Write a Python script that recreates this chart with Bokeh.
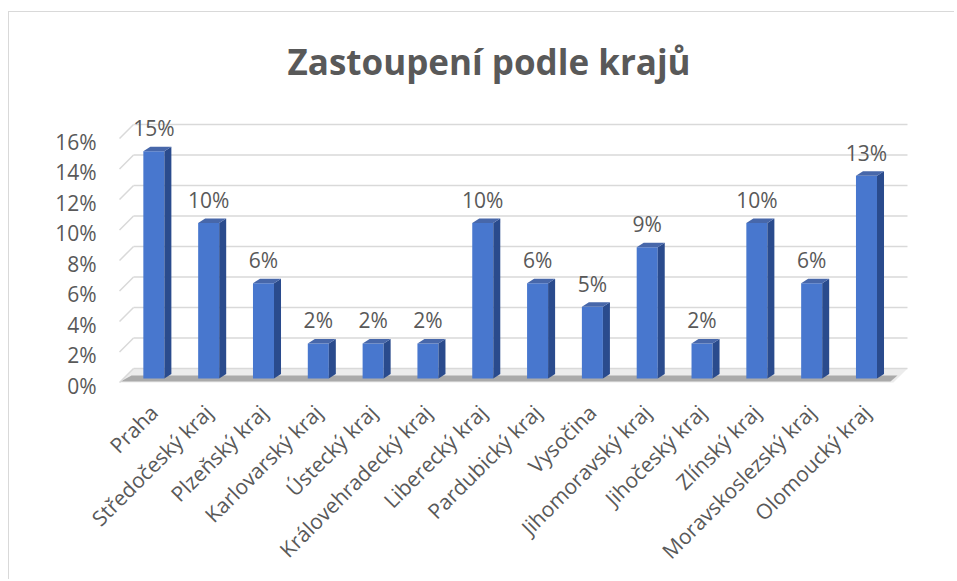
import math
from bokeh.plotting import figure
from bokeh.models import Range1d, LinearAxis, FixedTicker, PrintfTickFormatter
from bokeh.core.properties import value
from bokeh.embed import file_html
from bokeh.resources import INLINE

# ---- data ----
categories = ["Praha", "Středočeský kraj", "Plzeňský kraj", "Karlovarský kraj", "Ústecký kraj",
              "Královehradecký kraj", "Liberecký kraj", "Pardubický kraj", "Vysočina",
              "Jihomoravský kraj", "Jihočeský kraj", "Zlínský kraj", "Moravskoslezský kraj",
              "Olomoucký kraj"]
shares = [14.9, 10.2, 6.25, 2.3, 2.3, 2.3, 10.2, 6.25, 4.7, 8.6, 2.3, 10.2, 6.25, 13.3]
share_labels = ["15%", "10%", "6%", "2%", "2%", "2%", "10%", "6%", "5%", "9%", "2%", "10%", "6%", "13%"]
y_ticks = [0, 2, 4, 6, 8, 10, 12, 14, 16]
title_text = "Zastoupení podle krajů"

# ---- geometry (pixel sizes converted to data units) ----
PX_X = 54.75   # px per category
PX_Y = 15.25   # px per percent
half_w = 10.5 / PX_X
side_dx = 7.0 / PX_X
side_dy = 4.5 / PX_Y
back_dy = 10.0 / PX_Y
front_dy = -4.0 / PX_Y
grid_back_left = -20.3 / PX_X
grid_front_left = -34.3 / PX_X
grid_back_right = 752.7 / PX_X
grid_front_right = grid_back_right - 14.0 / PX_X

FONT = "Open Sans"
TXT = "#595959"
LBL = "21px"

x0, x1 = -43.3 / PX_X, 761.7 / PX_X
y0, y1 = -12.0 / PX_Y, 278.0 / PX_Y

p = figure(width=946, height=568, output_backend="svg", toolbar_location=None,
           x_range=Range1d(x0, x1), y_range=Range1d(y0, y1),
           x_axis_location=None, y_axis_location=None,
           min_border_left=101, min_border_right=39, min_border_top=88, min_border_bottom=190)
p.outline_line_color = None
p.xgrid.visible = False
p.ygrid.visible = False
p.styles = {"margin-left": "8px", "margin-top": "11px",
            "border-top": "1px solid #d9d9d9", "border-left": "1px solid #d9d9d9"}

# title
p.title.text = title_text
p.title.text_font = FONT
p.title.text_font_size = "35px"
p.title.text_font_style = "bold"
p.title.text_color = TXT
p.title.align = "left"
p.title.offset = 177
p.title.standoff = 32

# y axis (labels aligned with the front edge of the floor)
p.extra_y_ranges = {"ax": Range1d(y0 - front_dy + 3.0 / PX_Y, y1 - front_dy + 3.0 / PX_Y)}
yax = LinearAxis(y_range_name="ax", ticker=FixedTicker(ticks=y_ticks),
                 formatter=PrintfTickFormatter(format="%d%%"))
yax.axis_line_color = None
yax.major_tick_line_color = None
yax.minor_tick_line_color = None
yax.major_label_standoff = 8
yax.major_label_text_font = FONT
yax.major_label_text_font_size = LBL
yax.major_label_text_color = TXT
p.add_layout(yax, "left")

# x axis
idx = list(range(len(categories)))
xax = LinearAxis(ticker=FixedTicker(ticks=idx),
                 major_label_overrides={i: c for i, c in zip(idx, categories)})
xax.major_label_orientation = math.pi / 4
xax.axis_line_color = None
xax.major_tick_line_color = None
xax.minor_tick_line_color = None
xax.major_label_standoff = 12
xax.major_label_text_font = FONT
xax.major_label_text_font_size = LBL
xax.major_label_text_color = TXT
p.add_layout(xax, "below")

# floor
p.patch([grid_front_left, grid_back_left, grid_back_right, grid_front_right],
        [front_dy, back_dy, back_dy, front_dy], fill_color="#ececec", line_color=None)
p.patch([grid_front_left + 1.0 / PX_X, grid_back_left - 2.0 / PX_X, grid_back_right - 10.0 / PX_X, grid_front_right - 3.0 / PX_X],
        [front_dy + 1.0 / PX_Y, 0.2, 0.2, front_dy + 1.0 / PX_Y], fill_color="#8f8f8f", fill_alpha=0.7, line_color=None)

# gridlines (back wall + side diagonals)
p.segment(x0=[grid_back_left] * len(y_ticks), y0=[t + back_dy for t in y_ticks],
          x1=[grid_back_right] * len(y_ticks), y1=[t + back_dy for t in y_ticks],
          line_color="#d9d9d9", line_width=1.5)
p.segment(x0=[grid_front_left] * len(y_ticks), y0=[t + front_dy for t in y_ticks],
          x1=[grid_back_left] * len(y_ticks), y1=[t + back_dy for t in y_ticks],
          line_color="#d9d9d9", line_width=1.5)

# bars: front, side and top faces
p.quad(left=[i - half_w for i in idx], right=[i + half_w for i in idx],
       bottom=[0] * len(idx), top=shares, fill_color="#4877ce", line_color=None)
p.patches(xs=[[i + half_w, i + half_w + side_dx, i + half_w + side_dx, i + half_w] for i in idx],
          ys=[[0, side_dy, v + side_dy, v] for v in shares],
          fill_color="#2a4b8d", line_color=None)
p.patches(xs=[[i - half_w, i + half_w, i + half_w + side_dx, i - half_w + side_dx] for i in idx],
          ys=[[v, v, v + side_dy, v + side_dy] for v in shares],
          fill_color="#4767aa", line_color=None)

# data labels
p.text(x=idx, y=shares, text=share_labels, y_offset=-23, text_align="center",
       text_baseline="alphabetic", text_font=value(FONT), text_font_size=LBL, text_color=TXT)

open("out.html", "w").write(file_html(p, INLINE))
